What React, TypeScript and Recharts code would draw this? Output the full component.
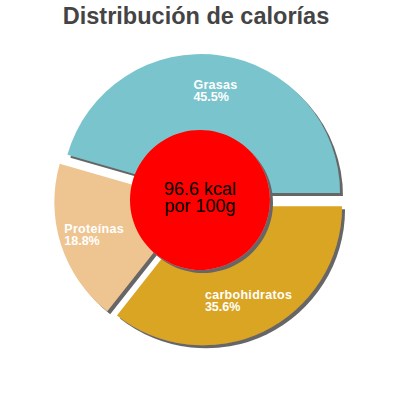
import { PieChart, Pie, Cell } from 'recharts'

const names = ['Grasas', 'Proteínas', 'carbohidratos']
const shares = [45.5, 18.8, 35.6]
const sliceColors = ['#7AC5CD', '#EEC591', '#DAA520']
const energy = 96.6
const centerLines = [`${energy} kcal`, 'por 100g']

const data = names.map((name, i) => ({ name, value: shares[i] }))
const centerData = [{ name: 'energy', value: energy }]

const FONT = '"Liberation Sans", Arial, sans-serif'
const RADIAN = Math.PI / 180
const EXPLODE = 7
const total = shares.reduce((a, b) => a + b, 0)

// push each slice out along its bisector
const offsets = shares.map((v, i) => {
  const before = shares.slice(0, i).reduce((a, b) => a + b, 0)
  const mid = ((before + v / 2) / total) * 360
  return { dx: EXPLODE * Math.cos(mid * RADIAN), dy: -EXPLODE * Math.sin(mid * RADIAN) }
})

let ctx: CanvasRenderingContext2D | null = null
const textWidth = (txt: string, font: string, spacing = 0) => {
  if (!ctx) ctx = document.createElement('canvas').getContext('2d')
  if (!ctx) return txt.length * 7
  ctx.font = font
  return ctx.measureText(txt).width + spacing * txt.length
}

const renderSliceLabel = (props: any) => {
  const { cx, cy, midAngle, outerRadius, index } = props
  const r = outerRadius * 0.75 + EXPLODE
  const px = cx + r * Math.cos(-midAngle * RADIAN)
  const py = cy + r * Math.sin(-midAngle * RADIAN)
  const title = names[index]
  const pct = `${shares[index].toFixed(1)}%`
  const font = `bold 12.5px ${FONT}`
  const w = Math.max(textWidth(title, font, 0.3), textWidth(pct, font))
  const x = px - w / 2
  return (
    <text x={x} y={py - 1} fill="#fff" fontSize={12.5} fontWeight="bold" fontFamily={FONT}>
      <tspan x={x} y={py - 1} letterSpacing={0.3}>{title}</tspan>
      <tspan x={x} y={py + 11}>{pct}</tspan>
    </text>
  )
}

const renderCenter = (props: any) => {
  const { cx, cy } = props
  return (
    <text x={cx} y={cy} textAnchor="middle" fill="#000" fontSize={18} fontFamily={FONT}>
      <tspan x={cx} y={cy - 5}>{centerLines[0]}</tspan>
      <tspan x={cx} y={cy + 12}>{centerLines[1]}</tspan>
    </text>
  )
}

export default function App() {
  return (
    <div style={{ position: 'relative', width: 400, height: 400, background: '#fff' }}>
      <style>{'body{margin:0}'}</style>
      <svg width={0} height={0} style={{ position: 'absolute' }}>
        <defs>
          <filter id="slice-shadow" x="-10%" y="-10%" width="130%" height="130%">
            <feDropShadow dx={3} dy={3} stdDeviation={0} floodColor="#666" floodOpacity={1} />
          </filter>
        </defs>
      </svg>
      <div
        style={{
          position: 'absolute',
          top: 3,
          left: -4,
          width: 400,
          textAlign: 'center',
          fontFamily: FONT,
          fontWeight: 'bold',
          fontSize: 23.5,
          lineHeight: '26px',
          color: '#444',
        }}
      >
        Distribución de calorías
      </div>
      <PieChart width={400} height={400} margin={{ top: 0, right: 0, bottom: 0, left: 0 }}>
        <Pie
          data={data}
          dataKey="value"
          nameKey="name"
          cx={200}
          cy={200}
          outerRadius={139}
          startAngle={0}
          endAngle={360}
          stroke="none"
          label={renderSliceLabel}
          labelLine={false}
          isAnimationActive={false}
        >
          {data.map((d, i) => (
            <Cell
              key={d.name}
              fill={sliceColors[i]}
              transform={`translate(${offsets[i].dx},${offsets[i].dy})`}
              filter="url(#slice-shadow)"
            />
          ))}
        </Pie>
        <Pie
          data={centerData}
          dataKey="value"
          cx={200}
          cy={200}
          outerRadius={70}
          stroke="none"
          label={renderCenter}
          labelLine={false}
          isAnimationActive={false}
        >
          <Cell fill="#FF0000" filter="url(#slice-shadow)" />
        </Pie>
      </PieChart>
    </div>
  )
}
